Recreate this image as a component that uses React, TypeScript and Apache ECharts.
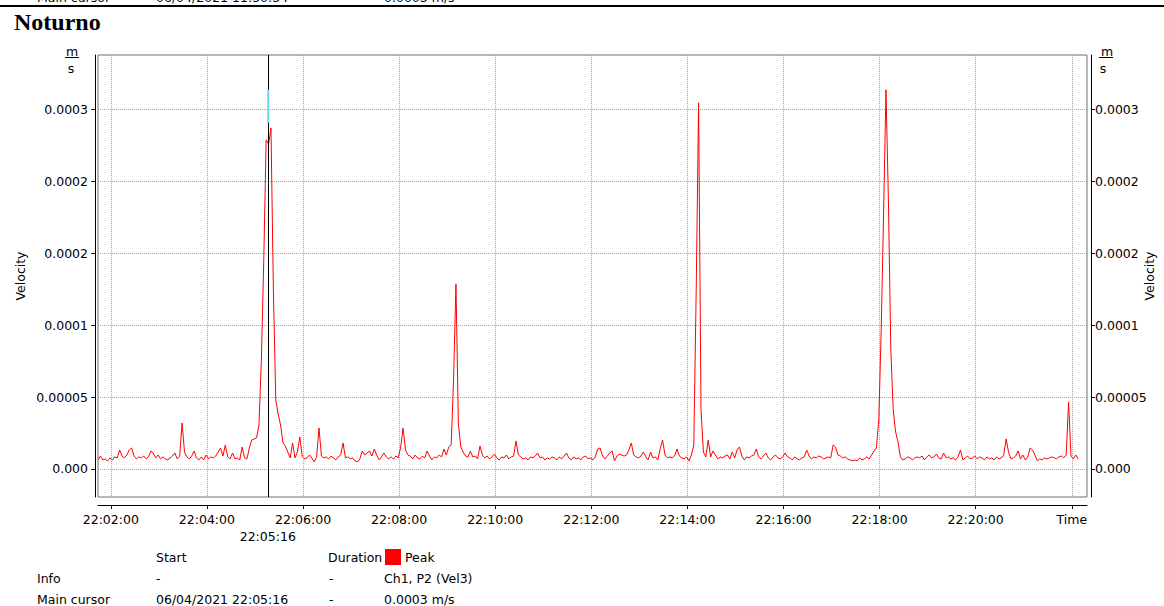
import { useEffect, useRef } from "react"
import * as echarts from "echarts"

// times are seconds after 22:00:00
const sampleStart = 104
const sampleStep = 3
const axisMin = 104
const axisMax = 1339

const timeTicks = [120, 240, 360, 480, 600, 720, 840, 960, 1080, 1200, 1320]
const timeTickLabels = [
  "22:02:00", "22:04:00", "22:06:00", "22:08:00", "22:10:00", "22:12:00",
  "22:14:00", "22:16:00", "22:18:00", "22:20:00", "Time",
]
const cursorTime = 316
const cursorLabel = "22:05:16"

const yTickValues = [0, 0.00005, 0.0001, 0.00015, 0.0002, 0.00025]
const yTickLabels = ["0.000", "0.00005", "0.0001", "0.0002", "0.0002", "0.0003"]

// velocity in µm/s, one sample every 3 s
const vel1 = [
  6.3, 9.0, 6.3, 7.0, 5.6, 7.7, 6.3, 8.4, 7.7, 13.2, 9.0, 7.7, 9.7, 13.2, 14.6, 9.0, 7.0, 8.4, 7.7, 9.0,
  7.0, 8.4, 12.5, 11.1, 7.7, 9.7, 7.0, 8.4, 7.0, 6.3, 7.7, 9.0, 11.1, 7.0, 9.0, 32.0, 11.8, 8.4, 7.0, 9.0,
  12.5, 7.7, 6.3, 8.4, 6.3, 9.7, 7.0, 8.4, 7.7, 9.0, 11.8, 14.6, 9.0, 16.7, 8.4, 7.0, 11.1, 7.0, 7.7, 6.3,
  15.3, 7.7, 7.0, 14.6, 20.2, 20.9, 21.6, 30.6, 75.9, 145.5, 229.0, 226.0, 237.3, 124.6, 48.0, 38.3, 30.6, 18.1, 16.0, 11.8,
  7.7, 18.1, 7.7, 11.8, 22.3, 9.0, 7.0, 7.7, 9.7, 7.7, 4.9, 8.4, 28.5, 9.0, 7.7, 8.4, 7.0, 9.0, 7.7, 6.3,
]
const vel2 = [
  8.4, 9.7, 18.1, 7.7, 8.4, 7.0, 7.7, 5.6, 4.9, 7.0, 12.5, 9.7, 11.1, 12.5, 9.0, 13.9, 9.7, 6.3, 8.4, 11.1,
  8.4, 7.0, 8.4, 7.0, 9.0, 7.7, 15.3, 28.5, 13.2, 9.7, 9.0, 7.0, 9.7, 7.7, 7.0, 9.0, 7.7, 12.5, 9.0, 6.3,
  8.4, 7.7, 9.7, 8.4, 13.9, 9.7, 15.3, 16.7, 61.9, 128.8, 32.0, 15.3, 11.8, 9.0, 8.4, 12.5, 8.4, 9.0, 7.0, 16.0,
  9.7, 7.7, 9.0, 7.0, 8.4, 10.4, 7.7, 6.3, 8.4, 7.7, 9.7, 7.0, 8.4, 9.0, 19.5, 9.7, 8.4, 7.0, 7.7, 6.3,
  8.4, 7.7, 9.0, 11.1, 7.7, 8.4, 6.3, 7.7, 7.0, 8.4, 7.7, 6.3, 8.4, 7.0, 9.0, 11.1, 7.7, 6.3, 8.4, 7.0,
]
const vel3 = [
  7.7, 6.3, 8.4, 9.0, 7.0, 7.7, 6.3, 8.4, 13.9, 14.6, 9.0, 7.0, 9.0, 11.1, 12.5, 5.6, 9.0, 10.4, 9.7, 9.0,
  9.7, 13.2, 18.1, 9.7, 8.4, 7.7, 9.0, 11.8, 8.4, 6.3, 11.8, 7.7, 8.4, 6.3, 13.9, 20.2, 9.7, 7.7, 8.4, 7.7,
  9.0, 13.9, 9.0, 7.7, 7.0, 8.4, 5.6, 9.7, 16.7, 124.6, 254.7, 41.1, 11.8, 8.4, 20.2, 8.4, 12.5, 9.7, 7.0, 8.4,
  7.7, 9.0, 9.7, 7.0, 11.8, 7.7, 13.2, 15.3, 9.0, 6.3, 8.4, 7.7, 9.0, 9.7, 13.9, 8.4, 7.0, 9.0, 11.1, 7.7,
  6.3, 8.4, 9.7, 7.7, 7.0, 8.4, 11.1, 8.4, 7.7, 6.3, 8.4, 7.0, 6.3, 7.7, 8.4, 13.2, 9.0, 7.0, 8.4, 7.7,
]
const vel4 = [
  9.0, 8.4, 7.0, 7.7, 8.4, 7.7, 16.7, 15.3, 9.7, 9.0, 7.7, 8.4, 7.0, 6.3, 5.6, 6.3, 5.6, 7.7, 6.3, 7.0,
  8.4, 7.0, 9.7, 12.5, 14.6, 34.1, 96.7, 178.2, 263.8, 187.2, 82.8, 41.1, 25.8, 18.8, 8.4, 6.3, 7.0, 8.4, 7.7, 6.3,
  7.7, 8.4, 7.7, 9.0, 6.3, 8.4, 9.7, 7.7, 8.4, 10.4, 7.7, 7.0, 11.1, 7.7, 8.4, 7.0, 7.7, 6.3, 8.4, 13.2,
  6.3, 7.7, 9.0, 7.0, 7.7, 9.0, 7.0, 8.4, 7.7, 6.3, 8.4, 7.0, 7.7, 6.3, 8.4, 7.0, 7.7, 9.7, 20.9, 11.8,
  7.0, 7.7, 9.0, 12.5, 7.0, 9.7, 6.3, 8.4, 14.6, 13.2, 9.7, 5.6, 7.0, 6.3, 7.7, 7.0, 7.7, 8.4, 7.7, 7.0,
  8.4, 9.0, 7.7, 9.7, 46.6, 9.0, 7.0, 9.7, 7.0,
]
// second trace, only visible at the cursor
const cursorTrace = [263.8, 240.8]

const header = ["Start", "Duration", "Peak"]
const infoRow = ["Info", "-", "-", "Ch1, P2 (Vel3)"]
const cursorRow = ["Main cursor", "06/04/2021 22:05:16", "-", "0.0003 m/s"]
const prevCursorRow = ["Main cursor", "06/04/2021 11:50:34", "-", "0.0003 m/s"]

const FONT = '"DejaVu Sans", Verdana, sans-serif'
const FS = 12.5

function yLabel(v: number) {
  const i = yTickValues.findIndex((t) => Math.abs(t - v) < 1e-9)
  return i >= 0 ? yTickLabels[i] : ""
}

function xLabel(v: number) {
  const i = timeTicks.findIndex((t) => Math.abs(t - v) < 1e-6)
  return i >= 0 ? timeTickLabels[i] : ""
}

function txt(x: number, y: number, text: string, extra: Record<string, unknown> = {}) {
  return {
    type: "text",
    x,
    y,
    silent: true,
    style: {
      text,
      font: `${FS}px ${FONT}`,
      fill: "#000",
      verticalAlign: "middle",
      ...extra,
    },
  }
}

export default function App() {
  const ref = useRef<HTMLDivElement>(null)

  useEffect(() => {
    if (!ref.current) return
    const chart = echarts.init(ref.current, null, { renderer: "svg" })

    const velocity = [...vel1, ...vel2, ...vel3, ...vel4]
    const data = velocity.map((v, i) => [sampleStart + i * sampleStep, v * 1e-6])
    const cyan = cursorTrace.map((v) => [cursorTime + 0.6, v * 1e-6])

    const cols = [37, 156, 329, 384]
    const rowText = (row: string[], y: number) => row.map((s, i) => txt(cols[i], y, s))

    const labelStyle = { color: "#000", fontFamily: FONT, fontSize: FS }

    const yAxisBase = {
      type: "value",
      min: -0.0000195,
      max: 0.000288,
      name: "Velocity",
      nameLocation: "middle",
      nameMoveOverlap: false,
      nameTextStyle: labelStyle,
      axisLine: { show: true, onZero: false, lineStyle: { color: "#000", width: 1 } },
      axisTick: { show: true, length: 4, customValues: yTickValues, lineStyle: { color: "#000" } },
      axisLabel: { ...labelStyle, customValues: yTickValues, formatter: yLabel },
    }

    chart.setOption({
      animation: false,
      backgroundColor: "#fff",
      grid: {
        left: 98,
        right: 77,
        top: 55,
        bottom: 109,
        show: true,
        borderColor: "#6e6e6e",
        borderWidth: 1,
        containLabel: false,
        outerBoundsMode: "none",
      },
      xAxis: [
        {
          type: "value",
          min: axisMin,
          max: axisMax,
          position: "bottom",
          offset: 8,
          axisLine: { show: true, onZero: false, lineStyle: { color: "#000", width: 1 } },
          axisTick: { show: true, length: 4, customValues: timeTicks, lineStyle: { color: "#000" } },
          axisLabel: { ...labelStyle, margin: 8, customValues: timeTicks, formatter: xLabel },
          splitLine: { show: true, lineStyle: { type: "dotted", color: "#a6a6a6", width: 1 } },
        },
        {
          type: "value",
          min: axisMin,
          max: axisMax,
          position: "bottom",
          offset: 8,
          axisLine: { show: false },
          axisTick: { show: false },
          splitLine: { show: false },
          axisLabel: { ...labelStyle, margin: 25, customValues: [cursorTime], formatter: () => cursorLabel },
        },
      ],
      yAxis: [
        {
          ...yAxisBase,
          position: "left",
          offset: 3,
          nameGap: 68,
          axisLabel: { ...yAxisBase.axisLabel, margin: 7 },
          splitLine: { show: true, lineStyle: { type: "dotted", color: "#a6a6a6", width: 1 } },
        },
        {
          ...yAxisBase,
          position: "right",
          offset: 4,
          nameGap: 52,
          axisLabel: { ...yAxisBase.axisLabel, margin: 4 },
          splitLine: { show: false },
        },
      ],
      series: [
        {
          name: "Ch1, P2 (Vel3)",
          type: "line",
          data,
          showSymbol: false,
          symbol: "none",
          lineStyle: { color: "#ff0000", width: 1 },
          itemStyle: { color: "#ff0000" },
          z: 3,
          markLine: {
            silent: true,
            symbol: ["none", "none"],
            label: { show: false },
            lineStyle: { color: "#000", width: 1, type: "solid" },
            data: [{ xAxis: cursorTime }],
          },
        },
        {
          type: "line",
          data: cyan,
          showSymbol: false,
          symbol: "none",
          lineStyle: { color: "#62dbe8", width: 2 },
          z: 6,
        },
      ],
      graphic: [
        { type: "line", silent: true, shape: { x1: 0, y1: 6, x2: 1164, y2: 6 }, style: { stroke: "#000", lineWidth: 2 } },
        ...rowText(prevCursorRow, -3),
        txt(14, 21.5, "Noturno", { font: 'bold 24px "Liberation Serif", "Times New Roman", serif' }),
        // unit fractions
        txt(72, 51, "m", { align: "center" }),
        { type: "line", silent: true, shape: { x1: 65, y1: 57.5, x2: 79, y2: 57.5 }, style: { stroke: "#000", lineWidth: 1 } },
        txt(71, 68, "s", { align: "center" }),
        txt(1107, 51, "m", { align: "center" }),
        { type: "line", silent: true, shape: { x1: 1099, y1: 57.5, x2: 1113, y2: 57.5 }, style: { stroke: "#000", lineWidth: 1 } },
        txt(1103, 68, "s", { align: "center" }),
        // info table
        txt(cols[1], 557, header[0]),
        txt(cols[2] - 1, 557, header[1]),
        { type: "rect", silent: true, shape: { x: 385, y: 549, width: 16, height: 16 }, style: { fill: "#ff0000" } },
        txt(405, 557, header[2]),
        ...rowText(infoRow, 578),
        ...rowText(cursorRow, 599),
      ],
    })

    return () => chart.dispose()
  }, [])

  return (
    <div
      ref={ref}
      style={{ position: "fixed", left: 0, top: 0, width: 1164, height: 606, background: "#fff" }}
    />
  )
}
